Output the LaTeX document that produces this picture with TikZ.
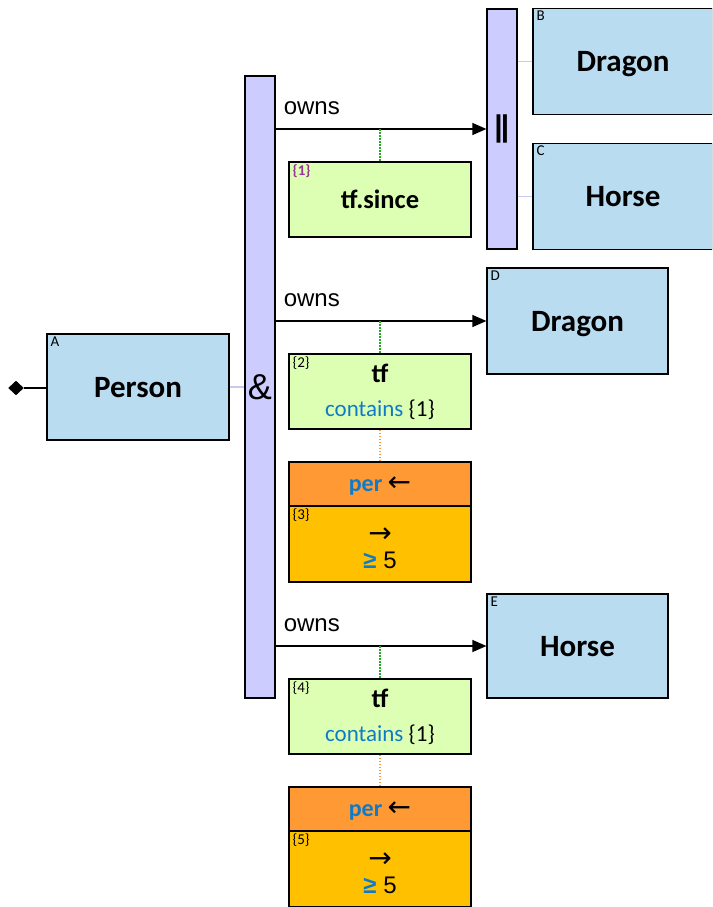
\documentclass[tikz,border=0pt]{standalone}
\usepackage{fontspec}
\setmainfont{Carlito}
\newfontfamily\arialf{Liberation Sans}
\newfontfamily\dejavu{DejaVu Sans}
\usetikzlibrary{shapes.geometric,arrows.meta}
\definecolor{entblue}{HTML}{BADCF1}
\definecolor{barlav}{HTML}{CCCCFF}
\definecolor{tfgreen}{HTML}{DDFFB3}
\definecolor{perorange}{HTML}{FF9933}
\definecolor{peryellow}{HTML}{FFC000}
\definecolor{cblue}{HTML}{0F7BC8}
\definecolor{lblpurple}{HTML}{993399}
\definecolor{dotgreen}{HTML}{22AA22}
\definecolor{dotorange}{HTML}{FF9933}
\definecolor{lavline}{HTML}{C8C8F0}
\newcommand{\larr}{{\dejavu\fontsize{28}{26}\selectfont ←}}
\newcommand{\rarr}{{\dejavu\fontsize{28}{26}\selectfont\rule{0pt}{24pt}→}}
\newcommand{\gefive}{{\arialf\fontsize{24}{26}\selectfont{\color{cblue}\bfseries ≥} 5}}
\begin{document}
\begin{tikzpicture}[x=1pt,y=-1pt,
  ent/.style={draw=black,fill=entblue,line width=1.2pt,minimum width=182pt,minimum height=106pt,inner sep=0pt,text depth=0pt,font=\fontsize{31}{36}\selectfont\bfseries},
  bar/.style={draw=black,fill=barlav,line width=1.2pt,minimum width=30pt,inner sep=0pt},
  tfbox/.style={draw=black,fill=tfgreen,line width=1.2pt,minimum width=182pt,minimum height=75pt,inner sep=0pt,align=center,font=\fontsize{23}{34}\selectfont},
  perhead/.style={draw=black,fill=perorange,line width=1.2pt,minimum width=182pt,minimum height=44pt,inner sep=0pt,text depth=0pt,font=\fontsize{24}{26}\selectfont},
  perbody/.style={draw=black,fill=peryellow,line width=1.2pt,minimum width=182pt,minimum height=76pt,inner sep=0pt,align=center,font=\fontsize{26}{26}\selectfont},
  lbl/.style={anchor=north west,inner sep=0pt,font=\fontsize{15}{15}\selectfont},
  owns/.style={anchor=base west,inner sep=0pt,font=\arialf\fontsize{24}{24}\selectfont},
  rel/.style={draw=black,line width=1.2pt,-{Triangle[length=14pt,width=12pt]}},
  lav/.style={draw=lavline,line width=1.8pt},
  gdot/.style={draw=dotgreen,line width=1.4pt,dash pattern=on 1.5pt off 1.5pt},
  odot/.style={draw=dotorange,line width=1.4pt,dash pattern=on 1.5pt off 1.5pt}
]
\useasboundingbox (0,0) rectangle (712,907);
\begin{scope}
\clip (0,0) rectangle (712,907);
% entities
\node[ent] (A) at (138,387) {Person};
\node[ent,minimum width=180pt] (B) at (623,61.5) {Dragon};
\node[ent,minimum width=180pt] (C) at (623,196.5) {Horse};
\node[ent,minimum width=181pt] (D) at (577.5,321) {Dragon};
\node[ent,minimum width=181pt,minimum height=104pt] (E) at (577.5,646) {Horse};
% bars
\node[bar,minimum height=622pt,font=\arialf\fontsize{36}{36}\selectfont] (andbar) at (260,387) {\&};
\node[bar,minimum height=240pt,font=\arialf\fontsize{30}{30}\selectfont\bfseries] (orbar) at (502,129) {\kern-0.5pt|\kern-2pt|};
% tf boxes
\node[tfbox,font=\fontsize{26.5}{30}\selectfont\bfseries] (tf1) at (380,199.5) {tf.since};
\node[tfbox] (tf2) at (380,391.5) {{\fontsize{26.5}{30}\selectfont\bfseries tf}\\{\color{cblue}contains} \{1\}};
\node[tfbox] (tf3) at (380,716.5) {{\fontsize{26.5}{30}\selectfont\bfseries tf}\\{\color{cblue}contains} \{1\}};
% per boxes
\node[perhead] (ph1) at (380,484) {{\color{cblue}\bfseries per} \larr};
\node[perbody] (pb1) at (380,544) {\rarr\\\gefive};
\node[perhead] (ph2) at (380,809) {{\color{cblue}\bfseries per} \larr};
\node[perbody] (pb2) at (380,869) {\rarr\\\gefive};
% labels
\node[lbl] (lA) at ([shift={(4,3)}]A.north west) {A};
\node[lbl] (lB) at ([shift={(4,3)}]B.north west) {B};
\node[lbl] (lC) at ([shift={(4,3)}]C.north west) {C};
\node[lbl] (lD) at ([shift={(4,3)}]D.north west) {D};
\node[lbl] (lE) at ([shift={(4,3)}]E.north west) {E};
\node[lbl,text=lblpurple,font=\fontsize{15}{15}\selectfont\bfseries] (l1) at ([shift={(4,3)}]tf1.north west) {\{1\}};
\node[lbl] (l2) at ([shift={(4,3)}]tf2.north west) {\{2\}};
\node[lbl] (l3) at ([shift={(4,3)}]pb1.north west) {\{3\}};
\node[lbl] (l4) at ([shift={(4,3)}]tf3.north west) {\{4\}};
\node[lbl] (l5) at ([shift={(4,3)}]pb2.north west) {\{5\}};
% root diamond
\node[diamond,fill=black,draw=black,minimum width=15pt,minimum height=14pt,inner sep=0pt] (root) at (16,388) {};
\draw[line width=1.4pt] (root.east) -- (root.east -| A.west);
% lavender connectors
\draw[lav] (A.east) -- (A.east -| andbar.west);
\draw[lav] (orbar.east |- B.west) -- (B.west);
\draw[lav] (orbar.east |- C.west) -- (C.west);
% relations
\coordinate (s1) at (andbar.east |- orbar.west);
\coordinate (s2) at (andbar.east |- D.west);
\coordinate (s3) at (andbar.east |- E.west);
\draw[rel] (s1) -- (orbar.west);
\draw[rel] (s2) -- (D.west);
\draw[rel] (s3) -- (E.west);
\node[owns] (o1) at ([shift={(8,-15)}]s1) {owns};
\node[owns] (o2) at ([shift={(8,-15)}]s2) {owns};
\node[owns] (o3) at ([shift={(8,-15)}]s3) {owns};
% dotted links
\draw[gdot] (tf1.north |- s1) -- (tf1.north);
\draw[gdot] (tf2.north |- s2) -- (tf2.north);
\draw[gdot] (tf3.north |- s3) -- (tf3.north);
\draw[odot] (tf2.south) -- (ph1.north);
\draw[odot] (tf3.south) -- (ph2.north);
\end{scope}
\end{tikzpicture}
\end{document}
